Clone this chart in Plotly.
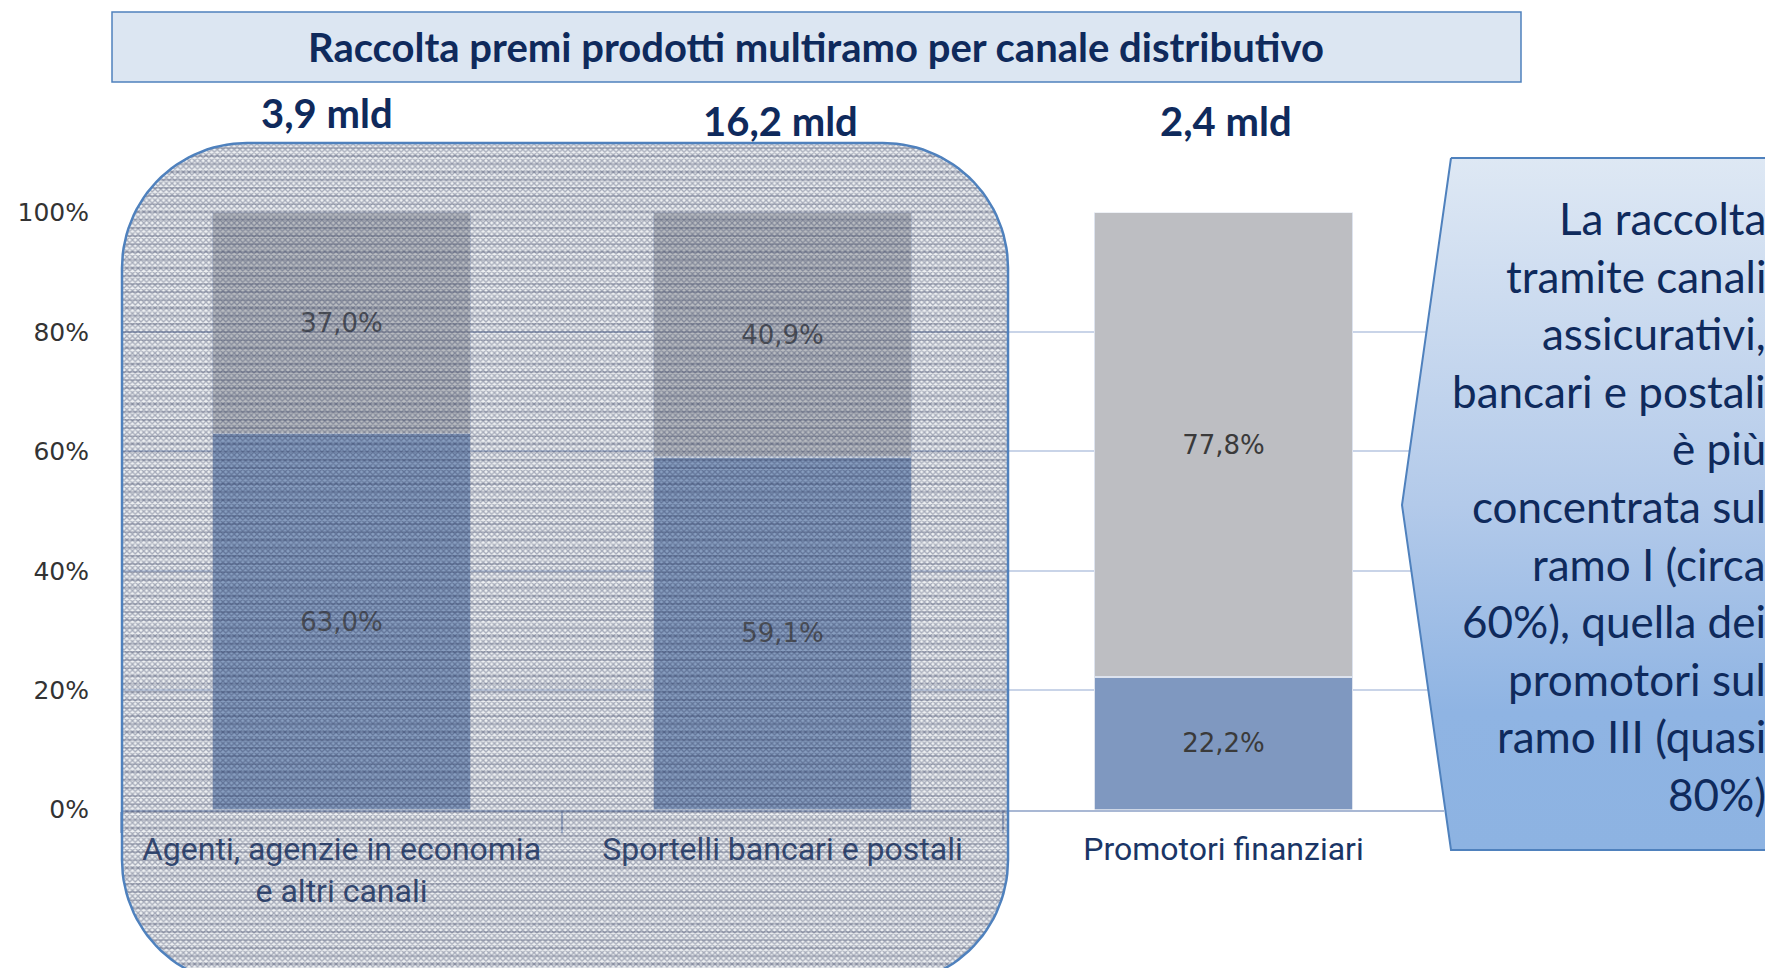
import numpy as np
import plotly.graph_objects as go

# ---------------- data ----------------
categories = ["Agenti, agenzie in economia<br>e altri canali",
              "Sportelli bancari e postali",
              "Promotori finanziari"]
ramo_I = [63.0, 59.1, 22.2]
ramo_III = [37.0, 40.9, 77.8]
totals_mld = [3.9, 16.2, 2.4]
y_ticks = [0, 20, 40, 60, 80, 100]
y_ticktext = [f"{v}%" for v in y_ticks]
title_text = "Raccolta premi prodotti multiramo per canale distributivo"
callout_lines = ["La raccolta", "tramite canali", "assicurativi,", "bancari e postali",
                 "è più", "concentrata sul", "ramo I (circa", "60%), quella dei",
                 "promotori sul", "ramo III (quasi", "80%)"]

W, H = 1773, 968
OFF = 8  # page body margin
NAVY = "#0F2A5C"
BORDER = "#4F81BD"


def dx(px):  # page x -> figure fraction
    return (px - OFF) / W


def dy(py):  # page y -> figure fraction (from bottom)
    return 1 - (py - OFF) / H


fig = go.Figure()

for vals, col in [(ramo_I, "#7F98C0"), (ramo_III, "#BDBEC2")]:
    fig.add_trace(go.Bar(
        x=categories, y=vals,
        marker=dict(color=col, line=dict(color="#DDE3EE", width=1.5)),
        texttemplate="%{y:.1f}%", textposition="inside", insidetextanchor="middle",
        textfont=dict(family="DejaVu Sans", size=26, color="#3A3A3A"),
        xaxis="x", yaxis="y"))


# ---------------- decorative overlay (page pixel axes) ----------------
def rounded_rect(x0, y0, x1, y1, r, n=30):
    xs, ys = [], []
    corners = [(x1 - r, y0 + r, -np.pi / 2, 0),
               (x1 - r, y1 - r, 0, np.pi / 2),
               (x0 + r, y1 - r, np.pi / 2, np.pi),
               (x0 + r, y0 + r, np.pi, 1.5 * np.pi)]
    for cx, cy, a0, a1 in corners:
        t = np.linspace(a0, a1, n)
        xs.extend(cx + r * np.cos(t))
        ys.extend(cy + r * np.sin(t))
    xs.append(xs[0]); ys.append(ys[0])
    return xs, ys


rx, ry = rounded_rect(122, 143, 1008, 985, 125)
fig.add_trace(go.Scatter(
    x=rx, y=ry, mode="lines", fill="toself", line=dict(width=0),
    fillcolor="rgba(0,0,0,0)",
    fillpattern=dict(shape="x", size=4, solidity=0.55,
                     fgcolor="rgba(28,40,75,0.7)", bgcolor="rgba(170,178,192,0.2)"),
    hoverinfo="skip", showlegend=False, xaxis="x2", yaxis="y2"))
fig.add_trace(go.Scatter(
    x=rx, y=ry, mode="lines", fill="toself",
    line=dict(color=BORDER, width=2.5),
    fillcolor="rgba(0,0,0,0)",
    fillpattern=dict(shape="-", size=8, solidity=0.2,
                     fgcolor="rgba(28,40,75,0.55)", bgcolor="rgba(0,0,0,0)"),
    hoverinfo="skip", showlegend=False, xaxis="x2", yaxis="y2"))

# callout arrow box
cx = [1451, 1800, 1800, 1451, 1402, 1451]
cy = [158, 158, 850, 850, 505, 158]
fig.add_trace(go.Scatter(
    x=cx, y=cy, mode="lines", fill="toself",
    line=dict(color=BORDER, width=2),
    fillgradient=dict(type="vertical",
                      colorscale=[[0, "#8DB3E2"], [0.2, "#8FB4E3"], [0.5, "#B3CAEA"], [1, "#DEE8F4"]]),
    hoverinfo="skip", showlegend=False, xaxis="x2", yaxis="y2"))

# ---------------- layout ----------------
fig.update_layout(
    width=W, height=H,
    margin=dict(l=0, r=0, t=0, b=0, pad=0, autoexpand=False),
    paper_bgcolor="white", plot_bgcolor="rgba(0,0,0,0)",
    barmode="stack", bargap=0.415, showlegend=False,
    separators=",.",
    xaxis=dict(domain=[dx(121), dx(1444)], showgrid=False, automargin=False,
               showline=True, linecolor="#A9B8D4", linewidth=2,
               ticks="outside", tickson="boundaries", ticklen=21, tickcolor="#A9B8D4", tickwidth=1.5,
               ticklabelstandoff=10,
               tickfont=dict(family="Roboto", size=32, color="#1A3566"),
               fixedrange=True),
    yaxis=dict(domain=[dy(809.6), dy(212.6)], range=[0, 100], automargin=False,
               tickmode="array", tickvals=y_ticks, ticktext=y_ticktext, showline=False,
               showgrid=True, gridcolor="#C9D4E8", gridwidth=1.5,
               ticks="outside", ticklen=26, tickcolor="rgba(0,0,0,0)",
               tickfont=dict(family="DejaVu Sans", size=25, color="#333333"),
               zeroline=False, fixedrange=True),
    xaxis2=dict(domain=[0, 1], range=[OFF, W + OFF], visible=False, anchor="y2",
                automargin=False, fixedrange=True),
    yaxis2=dict(domain=[0, 1], range=[H + OFF, OFF], visible=False, anchor="x2",
                automargin=False, fixedrange=True),
    shapes=[dict(type="rect", xref="x2", yref="y2", x0=112, x1=1521, y0=12, y1=82,
                 fillcolor="#DCE6F2", line=dict(color=BORDER, width=1.5), layer="below")],
)

ann = [dict(xref="x2", yref="y2", x=816, y=47, text="<b>" + title_text + "</b>",
            xanchor="center", yanchor="middle",
            showarrow=False, font=dict(family="Lato", size=40, color=NAVY))]

mld_y = [113, 121, 121]
mld_shift = [-15, -2, 2]
for c, t, yy, sh in zip(categories, totals_mld, mld_y, mld_shift):
    ann.append(dict(xref="x", yref="paper", x=c, y=dy(yy), xshift=sh,
                    xanchor="center", yanchor="middle",
                    text="<b>" + f"{t:.1f}".replace(".", ",") + " mld</b>",
                    showarrow=False, font=dict(family="Lato", size=40, color=NAVY)))

for i, line in enumerate(callout_lines):
    ann.append(dict(xref="x2", yref="y2", x=1768, y=218 + i * 57.6, text=line,
                    xanchor="right", yanchor="middle", showarrow=False,
                    font=dict(family="Lato", size=44, color=NAVY)))
fig.update_layout(annotations=ann)

fig.write_html("out.html")
